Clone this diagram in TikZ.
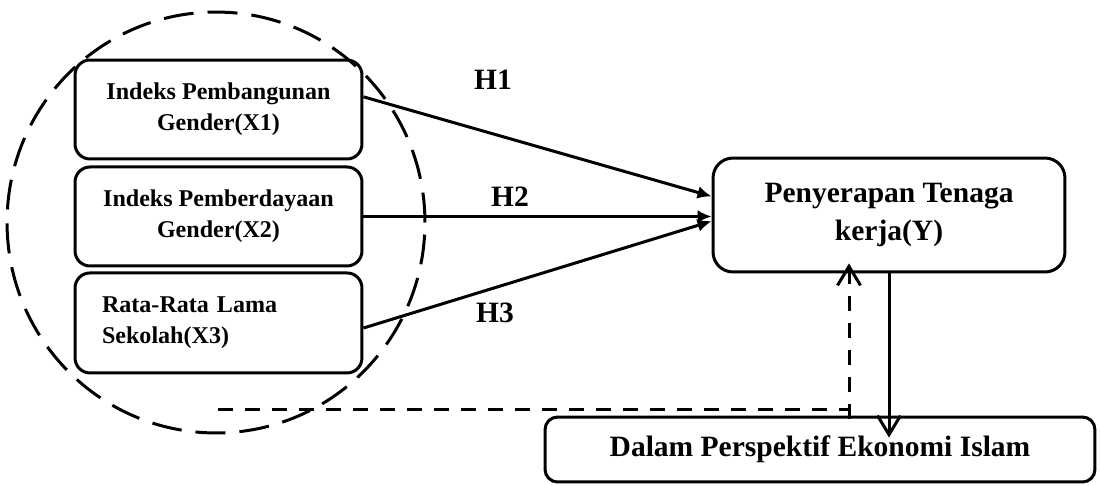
\documentclass[tikz,border=0pt]{standalone}
\usepackage{fontspec}
\setmainfont{Liberation Serif}
\usetikzlibrary{positioning,calc,arrows.meta}
\begin{document}
\begin{tikzpicture}[x=0.02cm, y=0.02cm,
  var/.style={draw, line width=0.06cm, rounded corners=0.3cm, minimum width=5.74cm, minimum height=1.98cm, align=center, font=\bfseries\fontsize{13.7}{17.6}\selectfont},
  hyp/.style={font=\bfseries\fontsize{16.8}{20}\selectfont},
  link/.style={line width=0.06cm, -{Latex[length=0.28cm,width=0.26cm]}},
  openlink/.style={line width=0.06cm, -{Straight Barb[length=0.38cm,width=0.46cm]}},
  dashline/.style={line width=0.06cm, dash pattern=on 0.3cm off 0.24cm},
  ring/.style={line width=0.06cm, dash pattern=on 0.6cm off 0.28cm}]
\useasboundingbox (0,0) rectangle (1100,485);
\draw[ring] (216,262.5) ellipse [x radius=4.18cm, y radius=4.21cm];
\node (x1) [var] at (218.5,375.5) {Indeks Pembangunan\\Gender(X1)};
\node (x2) [var, below=0.1cm of x1] {Indeks Pemberdayaan\\Gender(X2)};
\node (x3) [var, below=0.08cm of x2, minimum width=0cm, minimum height=2cm, text width=4.66cm, inner xsep=0.54cm, align=left] {Rata-Rata Lama\\Sekolah(X3)};
\node (y) [draw, line width=0.06cm, rounded corners=0.4cm, minimum width=7.04cm, minimum height=2.28cm, align=center, font=\bfseries\fontsize{16.8}{21.6}\selectfont] at (889,270) {Penyerapan Tenaga\\kerja(Y)};
\node (islam) [draw, line width=0.06cm, rounded corners=0.25cm, minimum width=11cm, minimum height=1.3cm, font=\bfseries\fontsize{16.8}{20}\selectfont] at (820,35.5) {Dalam Perspektif Ekonomi Islam};
\node (h1) [hyp] at (493,405) {H1};
\node (h2) [hyp] at (510,288) {H2};
\node (h3) [hyp] at (495,172) {H3};
\draw[link] (x1.5) -- (y.174);
\draw[link] (x2.east) -- (x2.east -| y.west);
\draw[link] (x3.-2) -- (y.182);
\draw[openlink] (y.south) -- ($(y.south |- islam.north)+(0,-22)$);
\coordinate (dstart) at (218,76);
\coordinate (dfoot) at ($(islam.north)+(29,-3)$);
\coordinate (dhead) at ($(y.south)+(-40,10)$);
\draw[dashline] (dstart) -- (dstart -| dfoot);
\draw[dashline, openlink] (dfoot) -- (dhead);
\end{tikzpicture}
\end{document}
